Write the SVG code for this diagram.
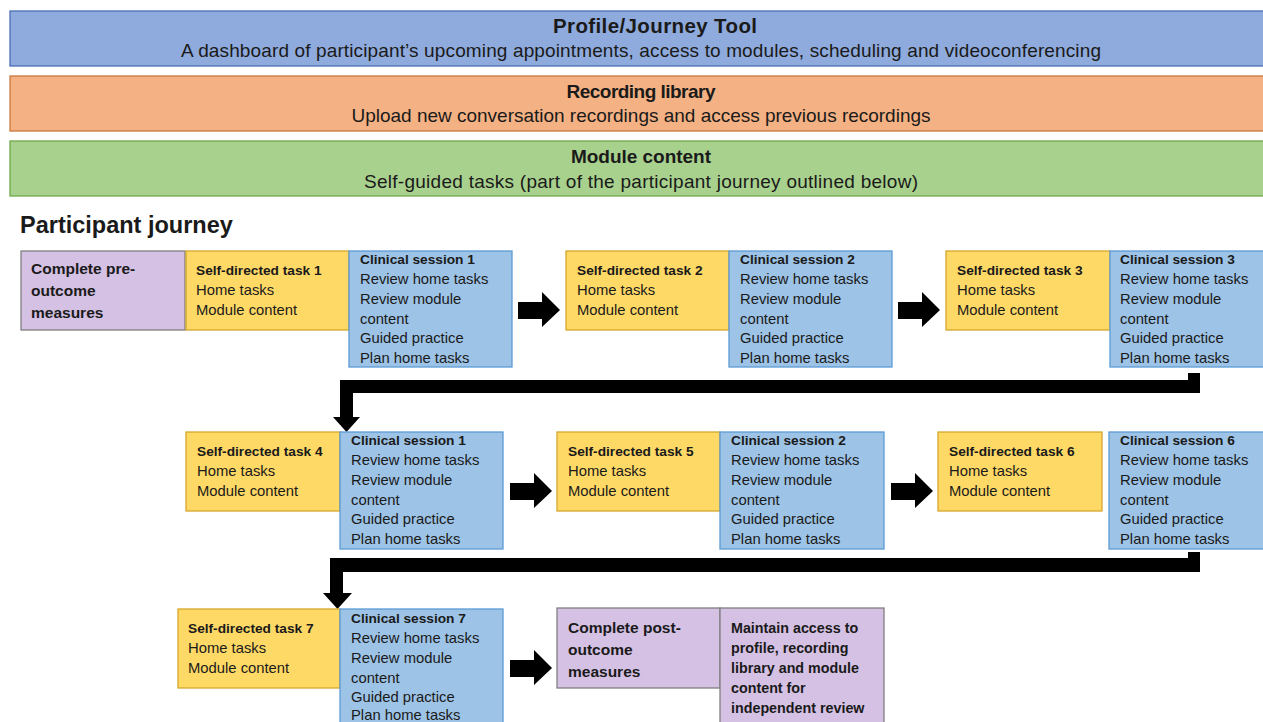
<svg xmlns="http://www.w3.org/2000/svg" width="1263" height="722" viewBox="0 0 1263 722">
<style>
text{font-family:"Liberation Sans",Arial,sans-serif;fill:#1a1a1a}
.bt{font-size:19px;font-weight:bold;text-anchor:middle}
.bs{font-size:19px;text-anchor:middle}
.h{font-size:13.7px;font-weight:bold}
.t{font-size:14.8px}
.p{font-size:15.5px;font-weight:bold}
.m{font-size:14.3px;font-weight:bold}
.pb{fill:#d5c1e3;stroke:#808080;stroke-width:1.3}
.yb{fill:#ffd966;stroke:#d4a72c;stroke-width:1.3}
.cb{fill:#9dc3e6;stroke:#5b9bd5;stroke-width:1.3}
.arr{fill:#000}
</style>
<rect width="1263" height="722" fill="#fff"/>
<g id="banner-profile">
<rect x="10" y="11" width="1262" height="55" fill="#8faadc" stroke="#4a6fb5" stroke-width="1.3"/>
<text class="bt" x="655" y="33" style="font-size:20.5px" textLength="204">Profile/Journey Tool</text>
<text class="bs" x="641" y="57" textLength="920">A dashboard of participant’s upcoming appointments, access to modules, scheduling and videoconferencing</text>
</g>
<g id="banner-recording">
<rect x="10" y="76" width="1262" height="55" fill="#f4b183" stroke="#c9773d" stroke-width="1.3"/>
<text class="bt" x="641" y="98" textLength="149">Recording library</text>
<text class="bs" x="641" y="122" textLength="579">Upload new conversation recordings and access previous recordings</text>
</g>
<g id="banner-module">
<rect x="10" y="141" width="1262" height="55" fill="#a9d18e" stroke="#6ea84a" stroke-width="1.3"/>
<text class="bt" x="641" y="163" textLength="140">Module content</text>
<text class="bs" x="641" y="188" textLength="554">Self-guided tasks (part of the participant journey outlined below)</text>
</g>
<text x="20" y="233" style="font-size:23.5px;font-weight:bold">Participant journey</text>

<g id="connectors">
<polygon class="arr" points="518,302 542,302 542,292 560,310 542,327 542,319 518,319"/>
<polygon class="arr" points="898,302 922,302 922,292 940,310 922,327 922,319 898,319"/>
<polygon class="arr" points="1188,373 1200,373 1200,393 353,393 353,417 360,417 346.5,432 333,417 340,417 340,380 1188,380"/>
<polygon class="arr" points="510,483 534,483 534,473 552,491 534,508 534,500 510,500"/>
<polygon class="arr" points="891,483 915,483 915,473 933,491 915,508 915,500 891,500"/>
<polygon class="arr" points="1188,552 1200,552 1200,572 343,572 343,593 352,593 337.5,609 323,593 330,593 330,558 1188,558"/>
<polygon class="arr" points="510,660 534,660 534,650 552,668 534,685 534,677 510,677"/>
</g>

<g id="pre-outcome">
<rect class="pb" x="21" y="251" width="164" height="79"/>
<text class="p" x="31" y="274">Complete pre-</text>
<text class="p" x="31" y="296">outcome</text>
<text class="p" x="31" y="318">measures</text>
</g>
<g id="task1">
<rect class="yb" x="186" y="251" width="163" height="79"/>
<text class="h" x="196" y="275">Self-directed task 1</text>
<text class="t" x="196" y="295">Home tasks</text>
<text class="t" x="196" y="315">Module content</text>
</g>
<g id="session1">
<rect class="cb" x="349" y="251" width="163" height="116"/>
<text class="h" x="360" y="264">Clinical session 1</text>
<text class="t" x="360" y="284">Review home tasks</text>
<text class="t" x="360" y="304">Review module</text>
<text class="t" x="360" y="324">content</text>
<text class="t" x="360" y="343">Guided practice</text>
<text class="t" x="360" y="363">Plan home tasks</text>
</g>
<g id="task2">
<rect class="yb" x="566" y="251" width="163" height="79"/>
<text class="h" x="577" y="275">Self-directed task 2</text>
<text class="t" x="577" y="295">Home tasks</text>
<text class="t" x="577" y="315">Module content</text>
</g>
<g id="session2">
<rect class="cb" x="729" y="251" width="163" height="116"/>
<text class="h" x="740" y="264">Clinical session 2</text>
<text class="t" x="740" y="284">Review home tasks</text>
<text class="t" x="740" y="304">Review module</text>
<text class="t" x="740" y="324">content</text>
<text class="t" x="740" y="343">Guided practice</text>
<text class="t" x="740" y="363">Plan home tasks</text>
</g>
<g id="task3">
<rect class="yb" x="946" y="251" width="164" height="79"/>
<text class="h" x="957" y="275">Self-directed task 3</text>
<text class="t" x="957" y="295">Home tasks</text>
<text class="t" x="957" y="315">Module content</text>
</g>
<g id="session3">
<rect class="cb" x="1110" y="251" width="165" height="116"/>
<text class="h" x="1120" y="264">Clinical session 3</text>
<text class="t" x="1120" y="284">Review home tasks</text>
<text class="t" x="1120" y="304">Review module</text>
<text class="t" x="1120" y="324">content</text>
<text class="t" x="1120" y="343">Guided practice</text>
<text class="t" x="1120" y="363">Plan home tasks</text>
</g>

<g id="task4">
<rect class="yb" x="186" y="432" width="154" height="79"/>
<text class="h" x="197" y="456">Self-directed task 4</text>
<text class="t" x="197" y="476">Home tasks</text>
<text class="t" x="197" y="496">Module content</text>
</g>
<g id="session4">
<rect class="cb" x="340" y="432" width="163" height="117"/>
<text class="h" x="351" y="445">Clinical session 1</text>
<text class="t" x="351" y="465">Review home tasks</text>
<text class="t" x="351" y="485">Review module</text>
<text class="t" x="351" y="505">content</text>
<text class="t" x="351" y="524">Guided practice</text>
<text class="t" x="351" y="544">Plan home tasks</text>
</g>
<g id="task5">
<rect class="yb" x="557" y="432" width="163" height="79"/>
<text class="h" x="568" y="456">Self-directed task 5</text>
<text class="t" x="568" y="476">Home tasks</text>
<text class="t" x="568" y="496">Module content</text>
</g>
<g id="session5">
<rect class="cb" x="720" y="432" width="164" height="117"/>
<text class="h" x="731" y="445">Clinical session 2</text>
<text class="t" x="731" y="465">Review home tasks</text>
<text class="t" x="731" y="485">Review module</text>
<text class="t" x="731" y="505">content</text>
<text class="t" x="731" y="524">Guided practice</text>
<text class="t" x="731" y="544">Plan home tasks</text>
</g>
<g id="task6">
<rect class="yb" x="938" y="432" width="164" height="79"/>
<text class="h" x="949" y="456">Self-directed task 6</text>
<text class="t" x="949" y="476">Home tasks</text>
<text class="t" x="949" y="496">Module content</text>
</g>
<g id="session6">
<rect class="cb" x="1109" y="432" width="166" height="117"/>
<text class="h" x="1120" y="445">Clinical session 6</text>
<text class="t" x="1120" y="465">Review home tasks</text>
<text class="t" x="1120" y="485">Review module</text>
<text class="t" x="1120" y="505">content</text>
<text class="t" x="1120" y="524">Guided practice</text>
<text class="t" x="1120" y="544">Plan home tasks</text>
</g>

<g id="task7">
<rect class="yb" x="178" y="609" width="162" height="79"/>
<text class="h" x="188" y="633">Self-directed task 7</text>
<text class="t" x="188" y="653">Home tasks</text>
<text class="t" x="188" y="673">Module content</text>
</g>
<g id="session7">
<rect class="cb" x="340" y="609" width="163" height="125"/>
<text class="h" x="351" y="623">Clinical session 7</text>
<text class="t" x="351" y="643">Review home tasks</text>
<text class="t" x="351" y="663">Review module</text>
<text class="t" x="351" y="683">content</text>
<text class="t" x="351" y="702">Guided practice</text>
<text class="t" x="351" y="720">Plan home tasks</text>
</g>
<g id="post-outcome">
<rect class="pb" x="557" y="608" width="163" height="80"/>
<text class="p" x="568" y="633">Complete post-</text>
<text class="p" x="568" y="655">outcome</text>
<text class="p" x="568" y="677">measures</text>
</g>
<g id="maintain-access">
<rect class="pb" x="720" y="608" width="164" height="125"/>
<text class="m" x="731" y="633">Maintain access to</text>
<text class="m" x="731" y="653">profile, recording</text>
<text class="m" x="731" y="673">library and module</text>
<text class="m" x="731" y="693">content for</text>
<text class="m" x="731" y="713">independent review</text>
</g>
</svg>
